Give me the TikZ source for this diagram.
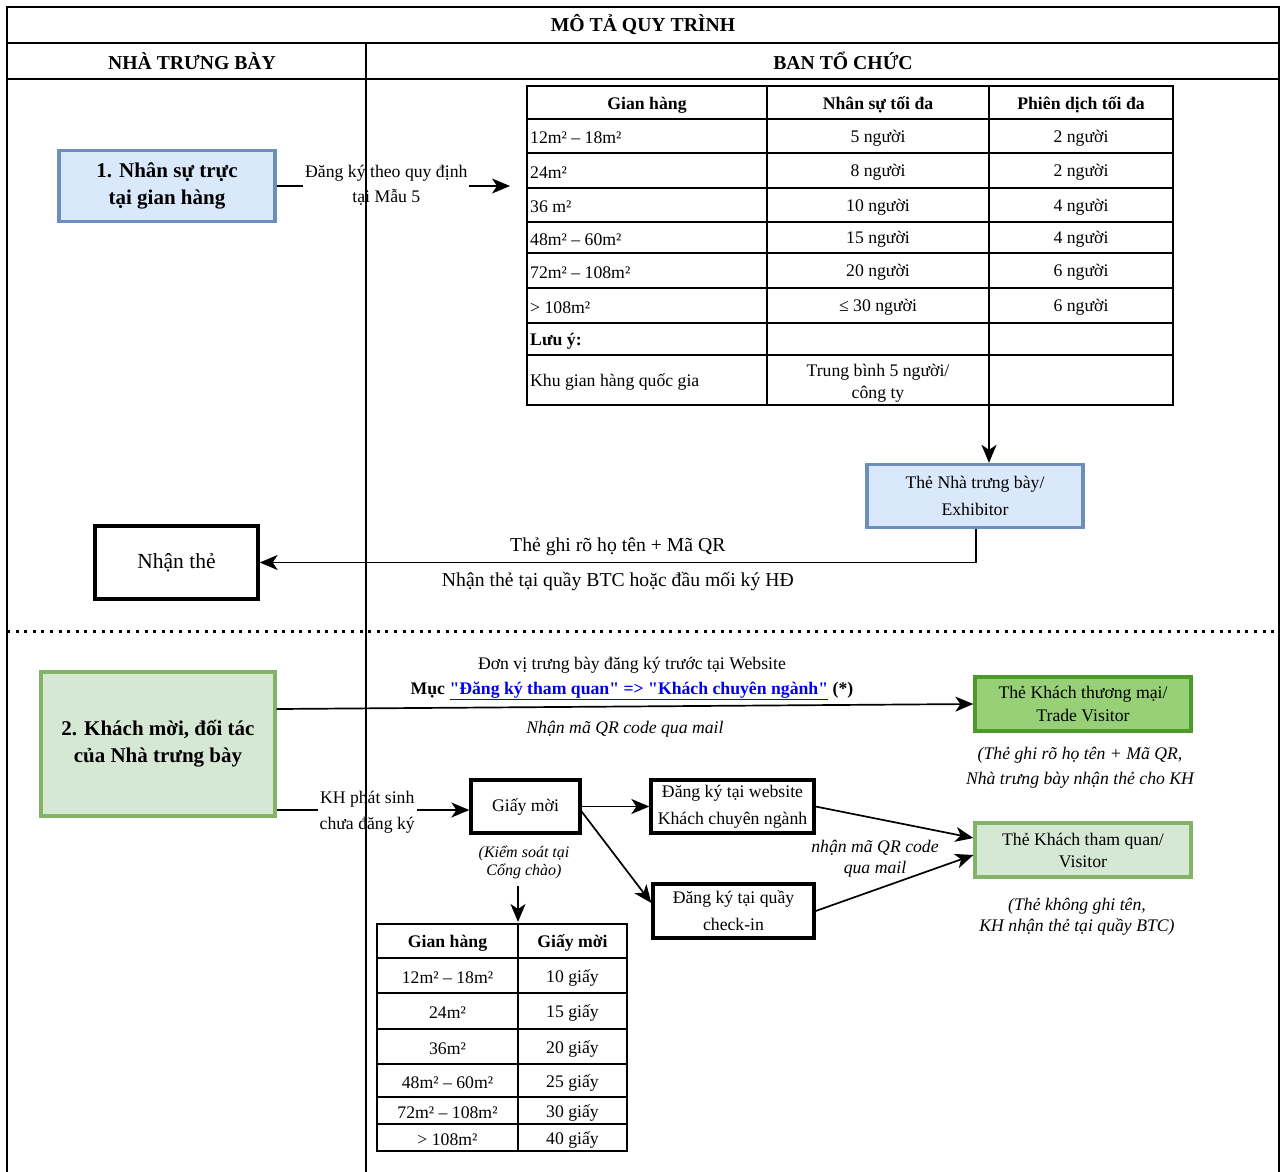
\documentclass[tikz,border=0pt]{standalone}
\usepackage{fontspec}
\setmainfont{Liberation Serif}
\usetikzlibrary{arrows.meta,positioning}

\definecolor{blueFill}{HTML}{DAE8FC}
\definecolor{blueLine}{HTML}{6C8EBF}
\definecolor{greenFill}{HTML}{D5E8D4}
\definecolor{greenLine}{HTML}{82B366}
\definecolor{tradeFill}{HTML}{97D077}
\definecolor{tradeLine}{HTML}{4D9A2A}
\definecolor{linkBlue}{HTML}{0000EE}

\tikzset{
  txt/.style={font=\fontsize{17.7}{21}\selectfont, inner sep=1pt, yshift=-2pt},
  bold/.style={font=\fontsize{17.7}{21}\selectfont\bfseries},
  lane/.style={line width=1.6pt},
  grid/.style={line width=1.5pt},
  conn/.style={line width=1.7pt, -{Stealth[length=18pt,width=15pt,inset=5pt]}},
  bluebox/.style={draw=blueLine, fill=blueFill, line width=3.3pt, inner sep=0pt, align=center},
  greenbox/.style={draw=greenLine, fill=greenFill, line width=3.3pt, inner sep=0pt, align=center},
  tradebox/.style={draw=tradeLine, fill=tradeFill, line width=3.3pt, inner sep=0pt, align=center},
  plainbox/.style={draw=black, fill=white, line width=3.3pt, inner sep=0pt, align=center},
  lbl/.style={fill=white, inner sep=2pt, align=center},
}

\begin{document}
\begin{tikzpicture}[x=1pt,y=-1pt]
  \useasboundingbox (0,0) rectangle (1281,1171);

  % headers
  \node (title) at (643,25) [font=\fontsize{19.7}{23}\selectfont\bfseries] {MÔ TẢ QUY TRÌNH};
  \node (laneA) at (192,61) [font=\fontsize{19.7}{23}\selectfont\bfseries] {NHÀ TRƯNG BÀY};
  \node (laneB) at (843,61) [font=\fontsize{19.7}{23}\selectfont\bfseries] {BAN TỔ CHỨC};

  % table of staff per booth
  \draw[grid] (527,86) rectangle (1173,405);
  \draw[grid] (767,86) -- (767,405);
  \draw[grid] (989,86) -- (989,405);
  \foreach \y in {119,153,188,222,253,288,323,355}
    \draw[grid] (527,\y) -- (1173,\y);
  \node (hGian) at (647,103) [txt, bold] {Gian hàng};
  \node (hStaff) at (878,103) [txt, bold] {Nhân sự tối đa};
  \node (hInterp) at (1081,103) [txt, bold] {Phiên dịch tối đa};
  \foreach \y/\a/\b/\c in {136/12m² – 18m²/5 người/2 người,
                          170.5/24m²/8 người/2 người,
                          205/36 m²/10 người/4 người,
                          237.5/48m² – 60m²/15 người/4 người,
                          270.5/72m² – 108m²/20 người/6 người,
                          305.5/> 108m²/≤ 30 người/6 người} {
    \node (ga\y) at (529,\y) [txt, anchor=west] {\a};
    \node (ns\y) at (878,\y) [txt] {\b};
    \node (pd\y) at (1081,\y) [txt] {\c};
  }
  \node (note) at (529,339) [txt, bold, anchor=west] {Lưu ý:};
  \node (natl) at (529,380) [txt, anchor=west] {Khu gian hàng quốc gia};
  \node (natlStaff) at (878,381) [txt, align=center, font=\fontsize{17.7}{22}\selectfont] {Trung bình 5 người/\\công ty};
  \coordinate (tblEnd) at (989,405);
  \coordinate (regEnd) at (510,186);

  % section 1
  \node (staff) at (167,186) [bluebox, minimum width=216pt, minimum height=71pt,
    font=\fontsize{21}{27}\selectfont\bfseries] {1. Nhân sự trực\\tại gian hàng};
  \node (exh) at (975,496) [bluebox, minimum width=216pt, minimum height=63pt,
    font=\fontsize{17.7}{27}\selectfont] {Thẻ Nhà trưng bày/\\Exhibitor};
  \node (recv) at (176.5,562.5) [plainbox, minimum width=163pt, minimum height=73pt,
    font=\fontsize{21.5}{25}\selectfont] {Nhận thẻ};

  \draw[conn] (staff.east) -- node[lbl, pos=0.47, yshift=1pt, font=\fontsize{17.7}{25}\selectfont] {Đăng ký theo quy định\\tại Mẫu 5} (regEnd);
  \draw[conn] (tblEnd) -- (tblEnd |- exh.north);
  \draw[conn] (exh.south -| 976,0) |- (recv.east)
    node[pos=0.75, above=3pt, font=\fontsize{19.7}{23}\selectfont] {Thẻ ghi rõ họ tên + Mã QR}
    node[pos=0.75, below=6pt, font=\fontsize{19.7}{23}\selectfont] {Nhận thẻ tại quầy BTC hoặc đầu mối ký HĐ};

  % section 2
  \node (guest) at (158,744) [greenbox, minimum width=234pt, minimum height=144pt,
    font=\fontsize{21}{27}\selectfont\bfseries] {2. Khách mời, đối tác\\của Nhà trưng bày};
  \node (trade) at (1083,704) [tradebox, minimum width=216pt, minimum height=54pt,
    font=\fontsize{17.7}{23}\selectfont] {Thẻ Khách thương mại/\\Trade Visitor};
  \node (tradeNote) at (1080,768) [align=center, font=\fontsize{17.7}{25}\selectfont\itshape]
    {(Thẻ ghi rõ họ tên + Mã QR,\\Nhà trưng bày nhận thẻ cho KH};
  \node (invite) at (525.5,806.5) [plainbox, minimum width=109pt, minimum height=53pt,
    font=\fontsize{17.7}{21}\selectfont] {Giấy mời};
  \node (ctrl) at (524,862) [align=center, font=\fontsize{16}{18}\selectfont\itshape] {(Kiểm soát tại\\Cổng chào)};
  \node (web) at (732.5,806.5) [plainbox, minimum width=163pt, minimum height=53pt,
    font=\fontsize{17.7}{27}\selectfont] {Đăng ký tại website\\Khách chuyên ngành};
  \node (desk) at (733.5,911) [plainbox, minimum width=161pt, minimum height=54pt,
    font=\fontsize{17.7}{27}\selectfont] {Đăng ký tại quầy\\check-in};
  \node (visit) at (1083,850) [greenbox, minimum width=216pt, minimum height=54pt,
    font=\fontsize{17.7}{22}\selectfont] {Thẻ Khách tham quan/\\Visitor};
  \node (visitNote) at (1077,917) [align=center, font=\fontsize{17.7}{21}\selectfont\itshape]
    {(Thẻ không ghi tên,\\KH nhận thẻ tại quầy BTC)};
  \node (qrMail) at (875,859) [align=center, font=\fontsize{17.7}{21}\selectfont\itshape] {nhận mã QR code\\qua mail};
  \coordinate (t2top) at (518,922);

  \draw[conn] ([yshift=35pt]guest.east) -- (trade.west)
    node[pos=0.51, above=2pt, align=center, font=\fontsize{17.7}{25}\selectfont]
      {Đơn vị trưng bày đăng ký trước tại Website\\
       \textbf{Mục \textcolor{linkBlue}{\underline{\textquotedbl Đăng ký tham quan\textquotedbl{} => \textquotedbl Khách chuyên ngành\textquotedbl}} (*)}}
    node[pos=0.5, below=10pt, font=\fontsize{17.7}{21}\selectfont\itshape] {Nhận mã QR code qua mail};
  \draw[conn] (guest.east |- 0,810) -- node[lbl, pos=0.47, yshift=-2pt, font=\fontsize{17.7}{26}\selectfont] {KH phát sinh\\chưa đăng ký} (invite.west |- 0,810);
  \draw[conn] (ctrl.south -| t2top) ++(0,4) -- (t2top);
  \draw[conn] (invite.east) -- (web.west);
  \draw[conn] ([yshift=-5pt]invite.east) -- ([yshift=8pt]desk.west);
  \draw[conn] (web.east) -- ([yshift=12pt]visit.west);
  \draw[conn] (desk.east) -- ([yshift=-5pt]visit.west);

  % table of invitations
  \draw[grid] (377,924) rectangle (627,1151);
  \draw[grid] (518,924) -- (518,1151);
  \foreach \y in {958,993,1029,1064,1097,1124}
    \draw[grid] (377,\y) -- (627,\y);
  \node (hGian2) at (447.5,941) [txt, bold] {Gian hàng};
  \node (hInv) at (572.5,941) [txt, bold] {Giấy mời};
  \foreach \y/\a/\b in {976/12m² – 18m²/10 giấy, 1011/24m²/15 giấy, 1046.5/36m²/20 giấy,
                        1080.5/48m² – 60m²/25 giấy, 1111/72m² – 108m²/30 giấy, 1138/> 108m²/40 giấy} {
    \node (gb\y) at (447.5,\y) [txt] {\a};
    \node (gm\y) at (572.5,\y) [txt] {\b};
  }

  % swimlanes
  \draw[line width=3pt, dash pattern=on 3pt off 5.6pt] (7,631) -- (1279,631);
  \draw[lane] (7,1172) -- (7,7) -- (1279,7) -- (1279,1172);
  \draw[lane] (7,43) -- (1279,43);
  \draw[lane] (7,79) -- (1279,79);
  \draw[lane] (366,43) -- (366,1172);
\end{tikzpicture}
\end{document}
